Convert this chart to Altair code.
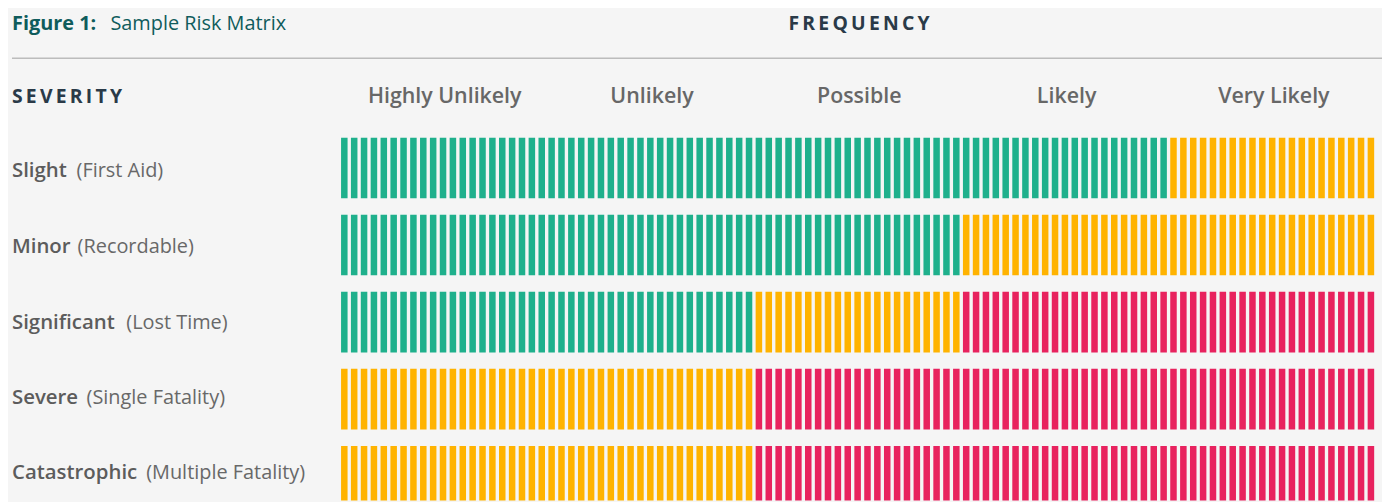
import altair as alt
import pandas as pd

# ---- data ----
severity_bold = ["Slight", "Minor", "Significant", "Severe", "Catastrophic"]
severity_note = ["(First Aid)", "(Recordable)", "(Lost Time)", "(Single Fatality)", "(Multiple Fatality)"]
frequency = ["Highly Unlikely", "Unlikely", "Possible", "Likely", "Very Likely"]
risk = [
    ["Low", "Low", "Low", "Low", "Medium"],
    ["Low", "Low", "Low", "Medium", "Medium"],
    ["Low", "Low", "Medium", "High", "High"],
    ["Medium", "Medium", "High", "High", "High"],
    ["Medium", "Medium", "High", "High", "High"],
]
levels = ["Low", "Medium", "High"]
level_colors = ["#1fb08c", "#ffb300", "#e8225e"]
stripes_per_cell = 21

# ---- layout (pixels, chart coordinates) ----
note_x = [69, 70, 119, 79, 139]
label_y = [163, 239, 315, 391, 466]
FONT = "Open Sans"

rows = []
for r, row in enumerate(risk):
    for c, lvl in enumerate(row):
        for j in range(stripes_per_cell):
            x0 = c + j / stripes_per_cell
            rows.append({"r": r, "x": x0, "x2": x0 + 0.66 / stripes_per_cell,
                         "y": r, "y2": r + 0.787, "level": lvl})
stripes = pd.DataFrame(rows)

xscale = alt.Scale(domain=[0, 5], range=[335, 1377.5], nice=False, zero=False)
yscale = alt.Scale(domain=[0, 5], range=[129, 516.5], nice=False, zero=False)

bars = alt.Chart(stripes).mark_rect(clip=True).encode(
    x=alt.X("x:Q", scale=xscale, axis=None),
    x2="x2:Q",
    y=alt.Y("y:Q", scale=yscale, axis=None),
    y2="y2:Q",
    color=alt.Color("level:N", scale=alt.Scale(domain=levels, range=level_colors), legend=None),
)

hdr = pd.DataFrame({"name": frequency, "xc": [i + 0.5 for i in range(5)]})
headers = alt.Chart(hdr).mark_text(
    font=FONT, fontSize=21.5, fontWeight=600, color="#676767", baseline="middle", align="center"
).encode(x=alt.X("xc:Q", scale=xscale), y=alt.value(88), text="name:N")

one = pd.DataFrame({"a": [0]})

label_layers = []
for r in range(5):
    label_layers.append(
        alt.Chart(one).mark_text(
            text=severity_bold[r], font=FONT, fontSize=20.5, fontWeight=600, color="#5c5c5c",
            baseline="middle", align="left"
        ).encode(x=alt.value(4), y=alt.value(label_y[r]))
    )
    label_layers.append(
        alt.Chart(one).mark_text(
            text=severity_note[r], font=FONT, fontSize=20, color="#686868",
            baseline="middle", align="left"
        ).encode(x=alt.value(note_x[r]), y=alt.value(label_y[r]))
    )

title_bold = alt.Chart(one).mark_text(
    text="Figure 1:", font=FONT, fontSize=20, fontWeight="bold", color="#0f5c5c",
    align="left", baseline="alphabetic"
).encode(x=alt.value(4), y=alt.value(21))
title_reg = alt.Chart(one).mark_text(
    text="Sample Risk Matrix", font=FONT, fontSize=20, color="#0f5c5c",
    align="left", baseline="alphabetic"
).encode(x=alt.value(103), y=alt.value(21))

sp = "\u2009"
freq_title = alt.Chart(one).mark_text(
    text=sp.join("FREQUENCY"), font=FONT, fontSize=19.5, fontWeight="bold", color="#2a3a48",
    align="center", baseline="alphabetic"
).encode(x=alt.value(856), y=alt.value(21))
sev_title = alt.Chart(one).mark_text(
    text=sp.join("SEVERITY"), font=FONT, fontSize=19.5, fontWeight="bold", color="#2a3a48",
    align="left", baseline="middle"
).encode(x=alt.value(4), y=alt.value(88))

rule = alt.Chart(one).mark_rule(color="#bcbcbc", strokeWidth=1.5).encode(
    x=alt.value(4), x2=alt.value(1382), y=alt.value(49)
)

chart = alt.layer(
    bars, headers, *label_layers, title_bold, title_reg, freq_title, sev_title, rule
).properties(
    width=1382, height=494, autosize=alt.AutoSizeParams(type="none"), padding=0,
    background="#f5f5f5"
).configure_view(stroke=None)

chart.save("out.html", embed_options={"renderer": "svg", "actions": False})
